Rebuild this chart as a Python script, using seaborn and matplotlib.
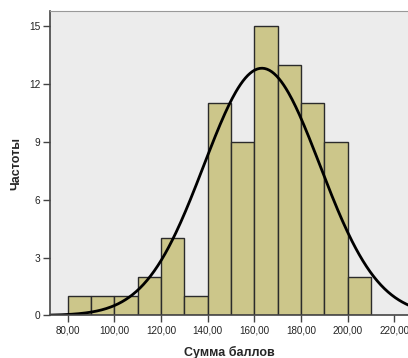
import numpy as np
import pandas as pd
import matplotlib
matplotlib.use('Agg')
import matplotlib.pyplot as plt
import seaborn as sns

# Гистограмма суммы баллов (интервалы по 10)
bin_left = [80, 90, 100, 110, 120, 130, 140, 150, 160, 170, 180, 190, 200]
counts = [1, 1, 1, 2, 4, 1, 11, 9, 15, 13, 11, 9, 2]
bin_width = 10

# Параметры нормальной кривой
mean_score = 163.2
sd_score = 24.9

x_ticks = [80, 100, 120, 140, 160, 180, 200, 220]
y_ticks = [0, 3, 6, 9, 12, 15]

sns.set_style('white')
plt.rcParams['font.family'] = ['Liberation Sans', 'DejaVu Sans']

df = pd.DataFrame({'mid': np.array(bin_left) + bin_width / 2, 'n': counts})
edges = list(bin_left) + [bin_left[-1] + bin_width]

fig = plt.figure(figsize=(4.08, 3.58), dpi=100)
ax = fig.add_axes([0.1225, 0.119, 0.8775, 0.85])
ax.set_facecolor('#ececec')

sns.histplot(data=df, x='mid', weights='n', bins=edges, ax=ax,
             color='#ccc68a', alpha=1, edgecolor='#2b2b2b', linewidth=1.0)

# нормальная кривая
xs = np.linspace(72.4, 226, 300)
total = sum(counts)
ys = total * bin_width / (sd_score * np.sqrt(2 * np.pi)) * np.exp(-0.5 * ((xs - mean_score) / sd_score) ** 2)
sns.lineplot(x=xs, y=ys, ax=ax, color='black', linewidth=2)

ax.set_xlim(72.4, 225.8)
ax.set_ylim(0, 15.78)
ax.set_xticks(x_ticks)
ax.set_xticklabels([f'{t:.2f}'.replace('.', ',') for t in x_ticks], fontsize=7.1, color='#222222')
ax.set_yticks(y_ticks)
ax.set_yticklabels([str(t) for t in y_ticks], fontsize=7.3, color='#222222')
ax.tick_params(axis='both', direction='out', length=5, width=1, color='#444444', pad=2,
               bottom=True, left=True)

for side in ['left', 'bottom']:
    ax.spines[side].set_color('#444444')
    ax.spines[side].set_linewidth(1.2)
ax.spines['top'].set_color('#999999')
ax.spines['right'].set_visible(False)

ax.set_xlabel('Сумма баллов', fontsize=9, fontweight='bold', labelpad=8)
ax.set_ylabel('Частоты', fontsize=9, fontweight='bold', labelpad=5)

fig.savefig('out.png', dpi=100)
